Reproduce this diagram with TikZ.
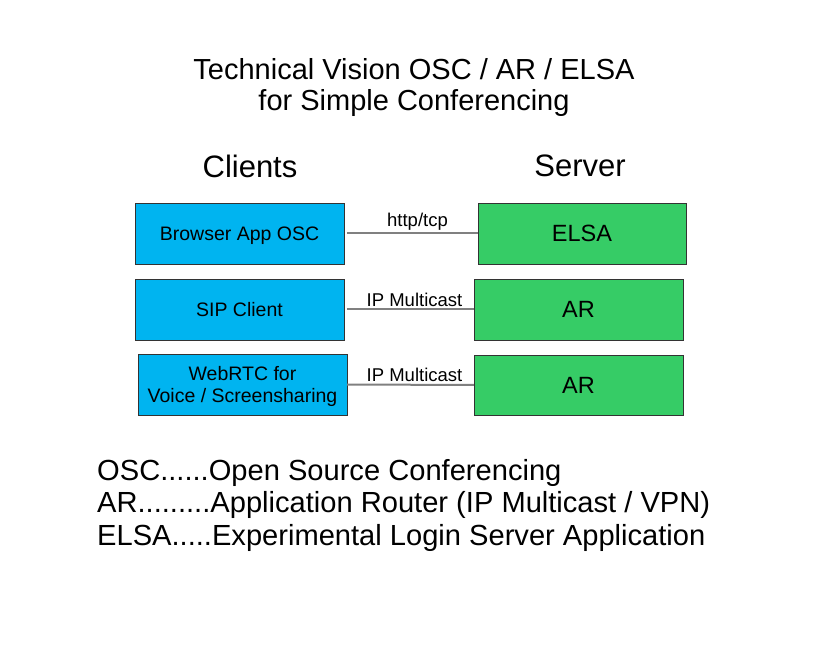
\documentclass[tikz,border=0pt]{standalone}
\usepackage{fontspec}
\setmainfont{Liberation Sans}
\usetikzlibrary{positioning}

\definecolor{clientblue}{RGB}{0,180,240}
\definecolor{servergreen}{RGB}{54,204,102}

\tikzset{
  client/.style={draw=black!80,fill=clientblue,minimum width=209pt,minimum height=61pt,
    align=center,font=\fontsize{19.5}{22}\selectfont,inner sep=0pt,text depth=0pt},
  server/.style={draw=black!80,fill=servergreen,minimum width=209pt,minimum height=61pt,
    font=\fontsize{23.5}{26}\selectfont,inner sep=0pt},
  link/.style={draw=gray,line width=2pt},
  linklabel/.style={font=\fontsize{18.5}{20}\selectfont,inner sep=2pt}
}

\begin{document}
\begin{tikzpicture}[x=1pt,y=-1pt]
  \useasboundingbox (0,0) rectangle (817,660);
  % title and column heads
  \node[align=center,font=\fontsize{29}{31}\selectfont] (title) at (414,88)
    {Technical Vision OSC / AR / ELSA\\for Simple Conferencing};
  \node[font=\fontsize{31}{34}\selectfont] (clients) at (250,166) {Clients};
  \node[font=\fontsize{31}{34}\selectfont] (server) at (580,166) {Server};
  % clients
  \node[client] (browser) at (239.5,233.5) {Browser App OSC};
  \node[client] (sip) at (239.5,309.5) {SIP Client};
  \node[client] (webrtc) at (242.5,384.5) {WebRTC for\\Voice / Screensharing};
  % servers
  \node[server,minimum width=208pt] (elsa) at (582,233.5) {ELSA};
  \node[server] (arA) at (578.5,309.5) {AR};
  \node[server,minimum height=60pt] (arB) at (578.5,385) {AR};
  % links
  \draw[link] ([xshift=3pt]browser.east) -- (elsa.west)
    node[linklabel,midway,above,xshift=5pt] (httplbl) {http/tcp};
  \draw[link] ([xshift=3pt]sip.east) -- (arA.west)
    node[linklabel,midway,above,xshift=4pt] (mcastA) {IP Multicast};
  \draw[link] (webrtc.east) -- (arB.west)
    node[linklabel,midway,above,xshift=4pt] (mcastB) {IP Multicast};
  % legend
  \node[align=left,anchor=north west,font=\fontsize{29.1}{32.5}\selectfont,inner sep=0pt] (legend) at (97,459)
    {OSC......Open Source Conferencing\\
     AR.........Application Router (IP Multicast / VPN)\\
     ELSA.....Experimental Login Server Application};
\end{tikzpicture}
\end{document}
